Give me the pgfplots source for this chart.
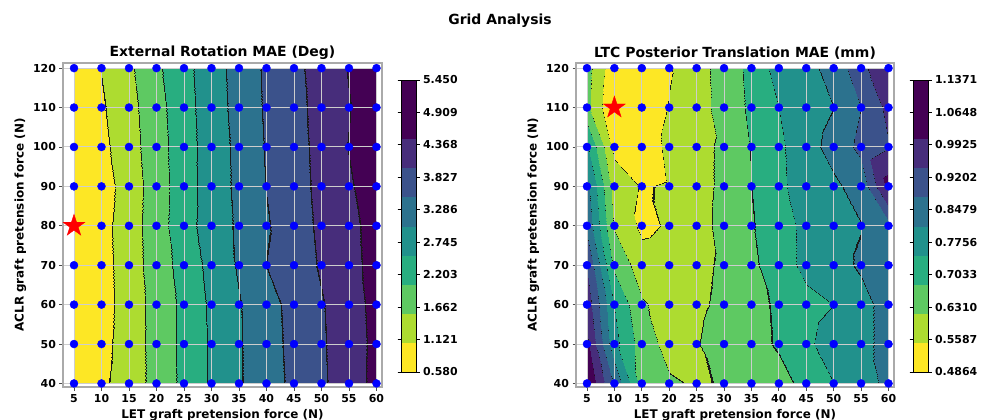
\documentclass[border=0pt]{standalone}
\usepackage{fontspec}
\setmainfont{DejaVu Sans}
\usepackage{pgfplots}
\usepackage{pgfplotstable}
\pgfplotsset{compat=1.18}

\definecolor{gridcol}{RGB}{205,205,205}
\definecolor{framecol}{RGB}{170,170,170}

% filled five-point star, like matplotlib's '*'
\pgfdeclareplotmark{fstar}{%
  \pgfpathmoveto{\pgfpointpolar{90}{\pgfplotmarksize}}%
  \pgfpathlineto{\pgfpointpolar{126}{0.382\pgfplotmarksize}}%
  \pgfpathlineto{\pgfpointpolar{162}{\pgfplotmarksize}}%
  \pgfpathlineto{\pgfpointpolar{198}{0.382\pgfplotmarksize}}%
  \pgfpathlineto{\pgfpointpolar{234}{\pgfplotmarksize}}%
  \pgfpathlineto{\pgfpointpolar{270}{0.382\pgfplotmarksize}}%
  \pgfpathlineto{\pgfpointpolar{306}{\pgfplotmarksize}}%
  \pgfpathlineto{\pgfpointpolar{342}{0.382\pgfplotmarksize}}%
  \pgfpathlineto{\pgfpointpolar{18}{\pgfplotmarksize}}%
  \pgfpathlineto{\pgfpointpolar{54}{0.382\pgfplotmarksize}}%
  \pgfpathclose
  \pgfusepathqfillstroke
}

% viridis_r, one colour per contour band
\pgfplotsset{
  colormap={vir}{
    rgb255=(253,231,37) rgb255=(173,220,48) rgb255=(94,201,98)
    rgb255=(40,174,128) rgb255=(33,145,140) rgb255=(44,114,142)
    rgb255=(59,82,139) rgb255=(71,45,123) rgb255=(68,1,84)
    rgb255=(68,1,84)},
  % same bands, with a thin dark stripe at every level (contour lines);
  % the stripe is wider for the left panel, whose field is steeper
  colormap={virlinesA}{
    rgb255(0pt)=(253,231,37)   rgb255(98.4pt)=(25,25,25)
    rgb255(101.6pt)=(173,220,48) rgb255(198.4pt)=(25,25,25)
    rgb255(201.6pt)=(94,201,98)  rgb255(298.4pt)=(25,25,25)
    rgb255(301.6pt)=(40,174,128) rgb255(398.4pt)=(25,25,25)
    rgb255(401.6pt)=(33,145,140) rgb255(498.4pt)=(25,25,25)
    rgb255(501.6pt)=(44,114,142) rgb255(598.4pt)=(25,25,25)
    rgb255(601.6pt)=(59,82,139)  rgb255(698.4pt)=(25,25,25)
    rgb255(701.6pt)=(71,45,123)  rgb255(798.4pt)=(25,25,25)
    rgb255(801.6pt)=(68,1,84)    rgb255(900pt)=(68,1,84)},
  colormap={virlinesB}{
    rgb255(0pt)=(253,231,37)   rgb255(99.2pt)=(25,25,25)
    rgb255(100.8pt)=(173,220,48) rgb255(199.2pt)=(25,25,25)
    rgb255(200.8pt)=(94,201,98)  rgb255(299.2pt)=(25,25,25)
    rgb255(300.8pt)=(40,174,128) rgb255(399.2pt)=(25,25,25)
    rgb255(400.8pt)=(33,145,140) rgb255(499.2pt)=(25,25,25)
    rgb255(500.8pt)=(44,114,142) rgb255(599.2pt)=(25,25,25)
    rgb255(600.8pt)=(59,82,139)  rgb255(699.2pt)=(25,25,25)
    rgb255(700.8pt)=(71,45,123)  rgb255(799.2pt)=(25,25,25)
    rgb255(800.8pt)=(68,1,84)    rgb255(900pt)=(68,1,84)},
}

% External rotation MAE (deg)
\pgfplotstableread{
x y z
5 40 0.620
10 40 1.009
15 40 1.400
20 40 1.832
25 40 2.341
30 40 2.816
35 40 3.240
40 40 3.599
45 40 3.945
50 40 4.280
55 40 4.658
60 40 5.050
5 50 0.620
10 50 0.946
15 50 1.387
20 50 1.849
25 50 2.341
30 50 2.816
35 50 3.240
40 50 3.617
45 50 3.971
50 50 4.301
55 50 4.663
60 50 5.035
5 60 0.630
10 60 0.902
15 60 1.381
20 60 1.856
25 60 2.339
30 60 2.839
35 60 3.252
40 60 3.635
45 60 3.991
50 60 4.321
55 60 4.686
60 60 5.060
5 70 0.620
10 70 0.907
15 70 1.402
20 70 1.911
25 70 2.422
30 70 2.901
35 70 3.351
40 70 3.829
45 70 4.122
50 70 4.421
55 70 4.751
60 70 5.080
5 80 0.580
10 80 0.931
15 80 1.410
20 80 1.944
25 80 2.538
30 80 2.992
35 80 3.374
40 80 3.772
45 80 4.129
50 80 4.467
55 80 4.778
60 80 5.090
5 90 0.600
10 90 0.869
15 90 1.381
20 90 1.919
25 90 2.510
30 90 2.997
35 90 3.409
40 90 3.840
45 90 4.162
50 90 4.500
55 90 4.848
60 90 5.196
5 100 0.620
10 100 0.975
15 100 1.444
20 100 1.960
25 100 2.517
30 100 2.996
35 100 3.428
40 100 3.860
45 100 4.178
50 100 4.524
55 100 4.930
60 100 5.360
5 110 0.611
10 110 1.048
15 110 1.485
20 110 2.002
25 110 2.543
30 110 3.023
35 110 3.471
40 110 3.891
45 110 4.209
50 110 4.540
55 110 4.883
60 110 5.225
5 120 0.680
10 120 1.134
15 120 1.567
20 120 2.097
25 120 2.580
30 120 3.045
35 120 3.497
40 120 3.909
45 120 4.234
50 120 4.581
55 120 4.941
60 120 5.450
}\dataER

% LTC posterior translation MAE (mm)
\pgfplotstableread{
x y z
5 40 1.137
10 40 0.910
15 40 0.672
20 40 0.640
25 40 0.623
30 40 0.637
35 40 0.665
40 40 0.690
45 40 0.715
50 40 0.776
55 40 0.810
60 40 0.870
5 50 1.080
10 50 0.800
15 50 0.668
20 50 0.606
25 50 0.628
30 50 0.660
35 50 0.690
40 50 0.708
45 50 0.760
50 50 0.815
55 50 0.830
60 50 0.870
5 60 1.037
10 60 0.776
15 60 0.640
20 60 0.601
25 60 0.620
30 60 0.645
35 60 0.690
40 60 0.710
45 60 0.745
50 60 0.776
55 60 0.830
60 60 0.870
5 70 0.986
10 70 0.688
15 70 0.592
20 70 0.600
25 70 0.615
30 70 0.641
35 70 0.695
40 70 0.725
45 70 0.804
50 70 0.830
55 70 0.855
60 70 0.900
5 80 0.900
10 80 0.625
15 80 0.542
20 80 0.567
25 80 0.610
30 80 0.648
35 80 0.700
40 80 0.725
45 80 0.807
50 80 0.830
55 80 0.846
60 80 0.900
5 90 0.870
10 90 0.600
15 90 0.553
20 90 0.566
25 90 0.610
30 90 0.644
35 90 0.703
40 90 0.755
45 90 0.826
50 90 0.839
55 90 0.869
60 90 1.100
5 100 0.785
10 100 0.540
15 100 0.500
20 100 0.581
25 100 0.610
30 100 0.644
35 100 0.706
40 100 0.760
45 100 0.828
50 100 0.867
55 100 0.943
60 100 0.990
5 110 0.650
10 110 0.4864
15 110 0.510
20 110 0.562
25 110 0.600
30 110 0.662
35 110 0.716
40 110 0.776
45 110 0.820
50 110 0.848
55 110 0.920
60 110 1.015
5 120 0.658
10 120 0.510
15 120 0.500
20 120 0.553
25 120 0.600
30 120 0.665
35 120 0.721
40 120 0.809
45 120 0.830
50 120 0.870
55 120 0.975
60 120 1.050
}\dataLTC

\pgfplotsset{
  panel/.style={
    scale only axis, height=324bp, anchor=south west,
    xmin=3, xmax=61, ymin=39.1, ymax=121.3,
    xtick={5,10,...,60}, ytick={40,50,...,120},
    tick label style={font=\fontsize{11}{13}\selectfont\bfseries},
    /pgf/number format/assume math mode=true,
    label style={font=\fontsize{12}{14}\selectfont\bfseries},
    title style={font=\fontsize{14}{16}\selectfont\bfseries, yshift=-6bp},
    xlabel={LET graft pretension force (N)},
    ylabel={ACLR graft pretension force (N)},
    axis on top,
    grid=major, grid style={gridcol, line width=0.9bp},
    axis line style={framecol, line width=1.2bp},
    tick style={black!70, line width=0.8bp},
    tick align=outside, tick pos=left, major tick length=3.5bp,
    colormap name=vir, colormap access=piecewise constant,
    colorbar,
    colorbar style={
      scale only axis, width=15bp, height=292bp,
      at={(parent axis.north east)}, anchor=north west,
      xshift=10.5bp, yshift=-17bp,
      ytick align=outside, major tick length=3.5bp,
      tick style={black, line width=0.8bp},
      axis line style={black, line width=0.6bp},
      yticklabel style={font=\fontsize{11}{13}\selectfont\bfseries},
    },
  },
  contourfill/.style={
    surf, shader=interp,
    mesh/rows=9, mesh/cols=12, point meta=explicit,
  },
  gridpts/.style={only marks, mark=*, mark size=4bp, color=blue},
  beststar/.style={only marks, mark=fstar, mark size=11.5bp, color=red},
}

\begin{document}
\begin{tikzpicture}
\path[use as bounding box] (0,0) rectangle (995bp,420bp);

\node[font=\fontsize{14}{16}\selectfont\bfseries] at (500bp,399bp) {Grid Analysis};

\begin{axis}[panel, at={(63bp,33bp)}, width=319bp,
  title={External Rotation MAE (Deg)},
  point meta min=0.580, point meta max=5.450,
  colorbar style={
    ytick={0.580,1.121,1.662,2.203,2.745,3.286,3.827,4.368,4.909,5.450},
    yticklabels={0.580,1.121,1.662,2.203,2.745,3.286,3.827,4.368,4.909,5.450},
  },
]
\addplot[contourfill, colormap name=virlinesA] table[x=x, y=y, meta=z] {\dataER};
\addplot[gridpts] table[x=x, y=y] {\dataER};
\addplot[beststar] coordinates {(5,80)};
\end{axis}

\begin{axis}[panel, at={(576bp,33bp)}, width=318bp,
  title={LTC Posterior Translation MAE (mm)},
  point meta min=0.4864, point meta max=1.1371,
  colorbar style={
    ytick={0.4864,0.5587,0.6310,0.7033,0.7756,0.8479,0.9202,0.9925,1.0648,1.1371},
    yticklabels={0.4864,0.5587,0.6310,0.7033,0.7756,0.8479,0.9202,0.9925,1.0648,1.1371},
  },
]
\addplot[contourfill, colormap name=virlinesB] table[x=x, y=y, meta=z] {\dataLTC};
\addplot[gridpts] table[x=x, y=y] {\dataLTC};
\addplot[beststar] coordinates {(10,110)};
\end{axis}
\end{tikzpicture}
\end{document}
